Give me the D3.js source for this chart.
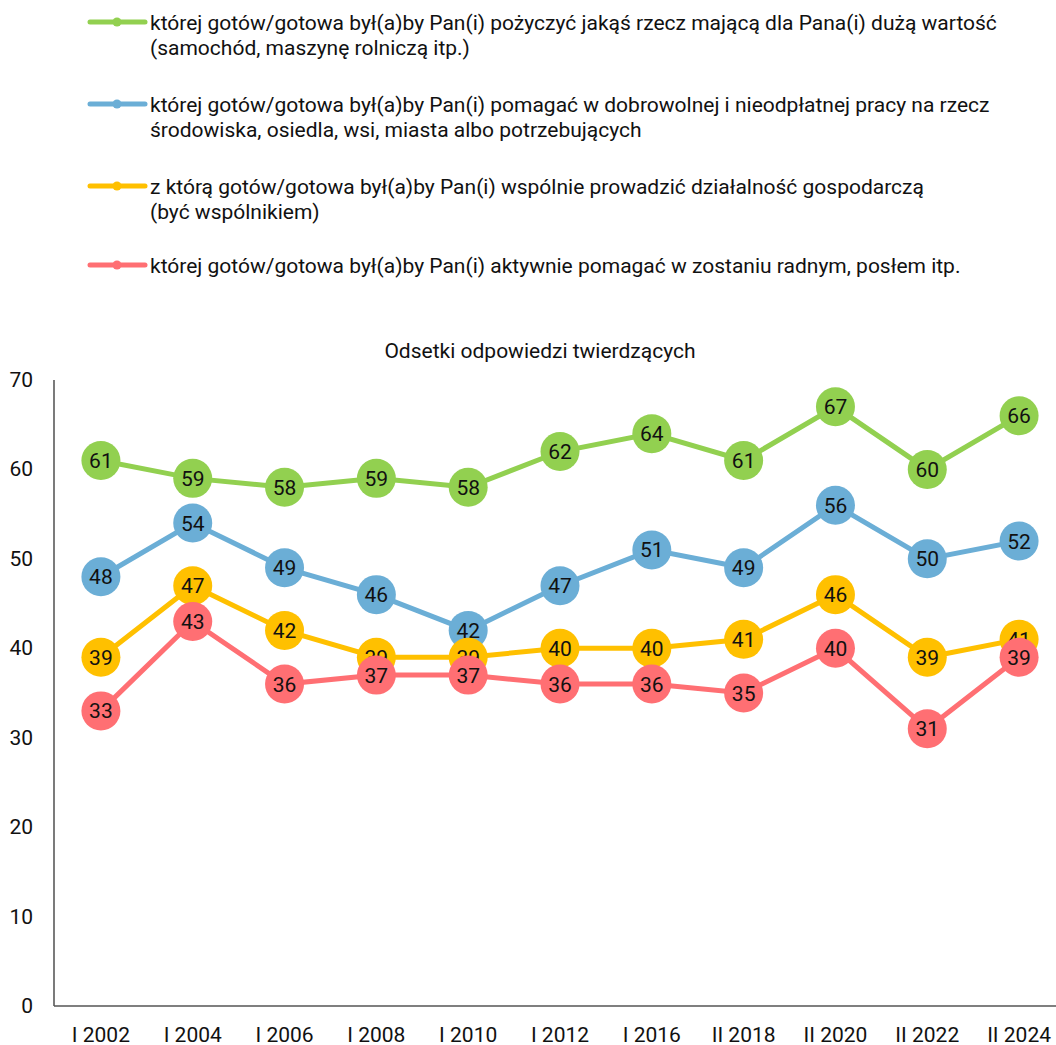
<!DOCTYPE html>
<html>
<head>
<meta charset="utf-8">
<script src="https://cdn.jsdelivr.net/npm/d3@7"></script>
<style>
  body { margin: 0; background: #fff; }
  svg { font-family: Roboto, "Noto Sans", sans-serif; }
</style>
</head>
<body>
<div id="plot"></div>
<script>
var categories = ["I 2002", "I 2004", "I 2006", "I 2008", "I 2010", "I 2012", "I 2016", "II 2018", "II 2020", "II 2022", "II 2024"];
var pozyczyc = [61, 59, 58, 59, 58, 62, 64, 61, 67, 60, 66];
var pomagac = [48, 54, 49, 46, 42, 47, 51, 49, 56, 50, 52];
var wspolnik = [39, 47, 42, 39, 39, 40, 40, 41, 46, 39, 41];
var radny = [33, 43, 36, 37, 37, 36, 36, 35, 40, 31, 39];
var yTicks = [0, 10, 20, 30, 40, 50, 60, 70];

var seriesNames = [
  ["której gotów/gotowa był(a)by Pan(i) pożyczyć jakąś rzecz mającą dla Pana(i) dużą wartość", "(samochód, maszynę rolniczą itp.)"],
  ["której gotów/gotowa był(a)by Pan(i) pomagać w dobrowolnej i nieodpłatnej pracy na rzecz", "środowiska, osiedla, wsi, miasta albo potrzebujących"],
  ["z którą gotów/gotowa był(a)by Pan(i) wspólnie prowadzić działalność gospodarczą", "(być wspólnikiem)"],
  ["której gotów/gotowa był(a)by Pan(i) aktywnie pomagać w zostaniu radnym, posłem itp."]
];
var seriesColors = ["#92d050", "#6baed6", "#ffc000", "#ff6f73"];
var seriesValues = [pozyczyc, pomagac, wspolnik, radny];

var width = 1056, height = 1045;
var fs = 21;

var svg = d3.select("#plot").append("svg")
  .attr("width", width)
  .attr("height", height);

// legend
var legendY = [22, 104, 186, 265];
var legend = svg.append("g").selectAll("g")
  .data(seriesNames)
  .enter().append("g")
  .attr("transform", function (d, i) { return "translate(0," + legendY[i] + ")"; });

legend.append("line")
  .attr("x1", 90).attr("x2", 145)
  .attr("stroke", function (d, i) { return seriesColors[i]; })
  .attr("stroke-width", 5)
  .attr("stroke-linecap", "round");
legend.append("circle")
  .attr("cx", 117).attr("r", 4.5)
  .attr("fill", function (d, i) { return seriesColors[i]; });
legend.append("text")
  .attr("x", 150)
  .attr("font-size", fs)
  .attr("fill", "#111")
  .selectAll("tspan")
  .data(function (d) { return d; })
  .enter().append("tspan")
  .attr("x", 150)
  .attr("y", function (d, i) { return 8 + i * 25; })
  .text(function (d) { return d; });

// chart
var x = d3.scaleBand().domain(categories).range([55, 1065]);
var y = d3.scaleLinear().domain([0, 70]).range([1006, 380]);

svg.append("text")
  .attr("x", 540).attr("y", 358)
  .attr("text-anchor", "middle")
  .attr("font-size", fs)
  .attr("fill", "#111")
  .text("Odsetki odpowiedzi twierdzących");

svg.append("line")
  .attr("x1", 54).attr("x2", 54)
  .attr("y1", y(70)).attr("y2", y(0))
  .attr("stroke", "#222").attr("stroke-width", 1.2);
svg.append("line")
  .attr("x1", 54).attr("x2", width)
  .attr("y1", y(0)).attr("y2", y(0))
  .attr("stroke", "#555").attr("stroke-width", 1.5);

svg.append("g").selectAll("text")
  .data(yTicks)
  .enter().append("text")
  .attr("x", 33)
  .attr("y", function (d) { return y(d) + 7; })
  .attr("text-anchor", "end")
  .attr("font-size", fs)
  .attr("fill", "#111")
  .text(function (d) { return d; });

svg.append("g").selectAll("text")
  .data(categories)
  .enter().append("text")
  .attr("x", function (d) { return x(d) + x.bandwidth() / 2; })
  .attr("y", 1042)
  .attr("text-anchor", "middle")
  .attr("font-size", fs)
  .attr("fill", "#111")
  .text(function (d) { return d; });

var line = d3.line()
  .x(function (d, i) { return x(categories[i]) + x.bandwidth() / 2; })
  .y(function (d) { return y(d); });

seriesValues.forEach(function (vals, s) {
  var g = svg.append("g");
  g.append("path")
    .datum(vals)
    .attr("d", line)
    .attr("fill", "none")
    .attr("stroke", seriesColors[s])
    .attr("stroke-width", 5);
  var pt = g.selectAll("g.pt")
    .data(vals)
    .enter().append("g")
    .attr("class", "pt")
    .attr("transform", function (d, i) {
      return "translate(" + (x(categories[i]) + x.bandwidth() / 2) + "," + y(d) + ")";
    });
  pt.append("circle")
    .attr("r", 19.5)
    .attr("fill", seriesColors[s]);
  pt.append("text")
    .attr("text-anchor", "middle")
    .attr("dy", "0.36em")
    .attr("font-size", fs)
    .attr("fill", "#111")
    .text(function (d) { return d; });
});
</script>
</body>
</html>
